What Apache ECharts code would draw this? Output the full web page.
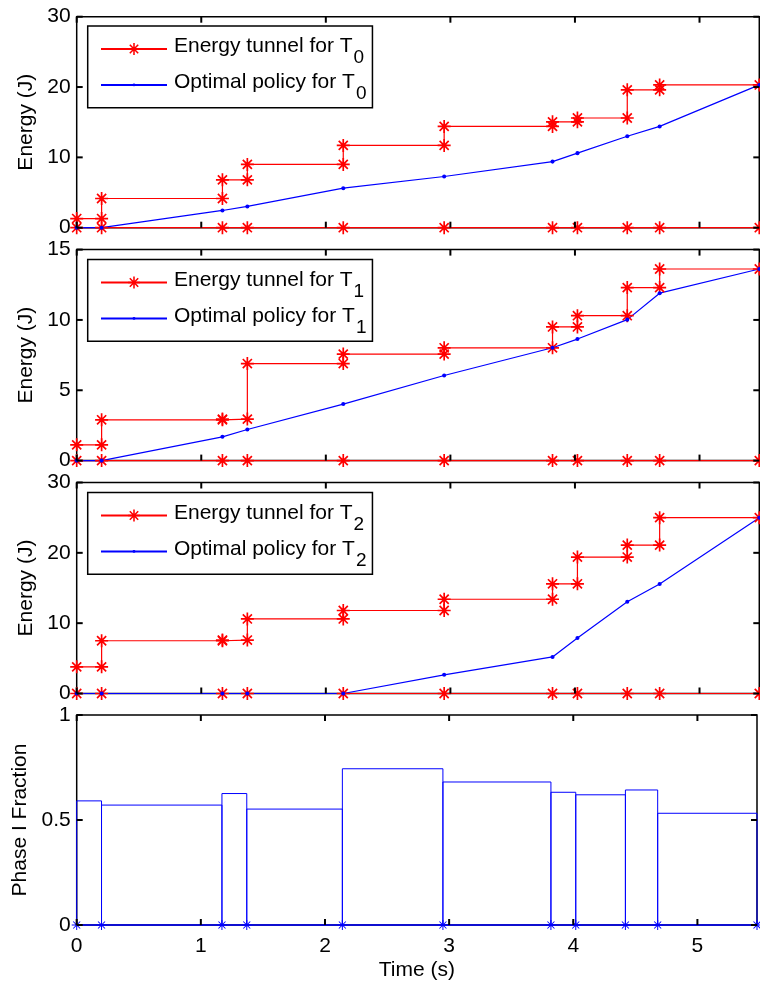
<!DOCTYPE html>
<html><head><meta charset="utf-8">
<script src="https://cdn.jsdelivr.net/npm/echarts@6/dist/echarts.min.js"></script>
<style>html,body{margin:0;padding:0;background:#fff}#c{width:760px;height:982px}</style>
</head><body><div id="c"></div>
<script>
// ---- data ----
const times = [0, 0.2, 1.17, 1.37, 2.14, 2.95, 3.82, 4.02, 4.42, 4.68, 5.48];
const tunnelT0 = [1.3, 4.15, 6.8, 9.0, 11.7, 14.4, 15.05, 15.6, 19.6, 20.3];
const tunnelT1 = [1.12, 2.9, 2.95, 6.9, 7.57, 8.02, 9.5, 10.3, 12.3, 13.62];
const tunnelT2 = [3.79, 7.5, 7.6, 10.6, 11.8, 13.4, 15.6, 19.4, 21.1, 25.0];
const policyT0 = [0, 0, 2.45, 3.02, 5.62, 7.28, 9.4, 10.6, 13.0, 14.4, 20.3];
const policyT1 = [0, 0, 1.69, 2.21, 4.02, 6.05, 8.02, 8.64, 10.02, 11.9, 13.62];
const policyT2 = [0, 0, 0, 0, 0, 2.66, 5.2, 7.9, 13.05, 15.57, 25.0];
const phaseFraction = [0.591, 0.571, 0.626, 0.552, 0.744, 0.681, 0.632, 0.62, 0.643, 0.532];
const subscripts = ['0', '1', '2'];
const xTicks = [0, 1, 2, 3, 4, 5];
const energyTicksT0 = [0, 10, 20, 30];
const energyTicksT1 = [0, 5, 10, 15];
const energyTicksT2 = [0, 10, 20, 30];
const fractionTicks = [0, 0.5, 1];
const xMax = 5.48;

// ---- styling ----
const FONT = '"Liberation Sans", Arial, Helvetica, sans-serif';
const FS = 21;
const RED = '#ff0000', BLUE = '#0000ff';
const TICK_LEN = 6;
function starPath(w) {
  const a = 10 - w / 2, b = 10 + w / 2, d = w / (2 * Math.SQRT2);
  const f = v => v.toFixed(3);
  return 'path://' +
    `M${f(a)} 0 L${f(b)} 0 L${f(b)} 20 L${f(a)} 20 Z ` +
    `M0 ${f(a)} L20 ${f(a)} L20 ${f(b)} L0 ${f(b)} Z ` +
    `M${f(3 - d)} ${f(3 + d)} L${f(3 + d)} ${f(3 - d)} L${f(17 + d)} ${f(17 - d)} L${f(17 - d)} ${f(17 + d)} Z ` +
    `M${f(17 - d)} ${f(3 - d)} L${f(17 + d)} ${f(3 + d)} L${f(3 + d)} ${f(17 + d)} L${f(3 - d)} ${f(17 - d)} Z`;
}
const RED_STAR = starPath(2.6);
const BLUE_STAR = starPath(2.0);
const DOT = 'path://M0 0 M20 20 M12.4 10 A2.4 2.4 0 1 1 7.6 10 A2.4 2.4 0 1 1 12.4 10 Z';

const gridLeft = 76.7, gridWidth = 682.6, gridHeight = 211;
const gridTops = [16.7, 249.6, 482.5, 715];
const legendTops = [26, 259.5, 492.5];

const tunnels = [tunnelT0, tunnelT1, tunnelT2];
const policies = [policyT0, policyT1, policyT2];
const yTicks = [energyTicksT0, energyTicksT1, energyTicksT2, fractionTicks];

function stairs(u) {
  const pts = [[times[0], u[0]]];
  for (let i = 1; i < times.length; i++) {
    pts.push([times[i], u[i - 1]]);
    if (i < u.length) pts.push([times[i], u[i]]);
  }
  return pts;
}
function zeroLine() { return times.map(t => [t, 0]); }
function policyPts(p) { return times.map((t, i) => [t, p[i]]); }
function boxes(f) {
  const pts = [];
  for (let i = 0; i < f.length; i++) {
    pts.push([times[i], 0], [times[i], f[i]], [times[i + 1], f[i]], [times[i + 1], 0]);
  }
  return pts;
}

const labelStyle = { color: '#000', fontFamily: FONT, fontSize: FS };
const tickLine = (x1, y1, x2, y2) => ({
  type: 'line', shape: { x1, y1, x2, y2 }, style: { stroke: '#000', lineWidth: 2 }
});

const grid = gridTops.map(t => ({
  left: gridLeft, top: t, width: gridWidth, height: gridHeight,
  show: true, borderColor: '#000', borderWidth: 1.5, backgroundColor: 'transparent'
}));

const xAxis = [], yAxis = [];
for (let g = 0; g < 4; g++) {
  const isLast = g === 3;
  const yt = yTicks[g];
  xAxis.push({
    type: 'value', gridIndex: g, min: 0, max: xMax, interval: xTicks[1] - xTicks[0],
    axisLine: { show: false, onZero: false }, splitLine: { show: false }, axisTick: { show: false },
    axisLabel: { show: isLast, margin: 11, ...labelStyle, formatter: v => Number.isInteger(v) ? String(v) : '' },
    name: isLast ? 'Time (s)' : '', nameLocation: 'middle', nameGap: 35,
    nameTextStyle: labelStyle
  });
  yAxis.push({
    type: 'value', gridIndex: g, min: yt[0], max: yt[yt.length - 1], interval: yt[1] - yt[0],
    axisLine: { show: false, onZero: false }, splitLine: { show: false }, axisTick: { show: false },
    axisLabel: { show: true, margin: 6, ...labelStyle },
    name: isLast ? 'Phase I Fraction' : 'Energy (J)', nameLocation: 'middle',
    nameRotate: 90, nameGap: isLast ? 46 : 40, nameTextStyle: labelStyle
  });
}

const series = [];
for (let g = 0; g < 3; g++) {
  const tName = 'Energy tunnel for T_' + subscripts[g];
  const pName = 'Optimal policy for T_' + subscripts[g];
  const red = {
    type: 'line', name: tName, xAxisIndex: g, yAxisIndex: g,
    symbol: RED_STAR, symbolSize: 13, showAllSymbol: true, clip: false, silent: true,
    lineStyle: { color: RED, width: 1.2 }, itemStyle: { color: RED, borderWidth: 0 },
    emphasis: { disabled: true }, animation: false, z: 3
  };
  series.push({ ...red, data: stairs(tunnels[g]) });
  series.push({ ...red, data: zeroLine() });
  series.push({
    type: 'line', name: pName, xAxisIndex: g, yAxisIndex: g,
    symbol: DOT, symbolSize: 17, showAllSymbol: true, clip: false, silent: true,
    lineStyle: { color: BLUE, width: 1.2 }, itemStyle: { color: BLUE, borderWidth: 0 },
    emphasis: { disabled: true }, data: policyPts(policies[g]), animation: false, z: 3
  });
}
series.push({
  type: 'line', name: 'Phase I Fraction', xAxisIndex: 3, yAxisIndex: 3,
  symbol: 'none', clip: false, silent: true,
  lineStyle: { color: BLUE, width: 1 }, itemStyle: { color: BLUE },
  emphasis: { disabled: true }, data: boxes(phaseFraction), animation: false, z: 3
});
series.push({
  type: 'line', name: 'Phase boundaries', xAxisIndex: 3, yAxisIndex: 3,
  symbol: BLUE_STAR, symbolSize: 10, showAllSymbol: true, clip: false, silent: true,
  lineStyle: { color: BLUE, width: 1.6 }, itemStyle: { color: BLUE, borderWidth: 0 },
  emphasis: { disabled: true }, data: zeroLine(), animation: false, z: 3
});

// inward tick marks on all four sides of every panel (MATLAB box style)
for (let g = 0; g < 4; g++) {
  series.push({
    type: 'custom', name: 'x ticks ' + g, xAxisIndex: g, yAxisIndex: g, silent: true, clip: false,
    z: 4, animation: false, data: xTicks.map(v => [v, 0]),
    renderItem: (params, api) => {
      const x = api.coord([api.value(0), 0])[0];
      const cs = params.coordSys;
      return { type: 'group', children: [
        tickLine(x, cs.y + cs.height, x, cs.y + cs.height - TICK_LEN),
        tickLine(x, cs.y, x, cs.y + TICK_LEN)
      ] };
    }
  });
  series.push({
    type: 'custom', name: 'y ticks ' + g, xAxisIndex: g, yAxisIndex: g, silent: true, clip: false,
    z: 4, animation: false, data: yTicks[g].map(v => [0, v]),
    renderItem: (params, api) => {
      const y = api.coord([0, api.value(1)])[1];
      const cs = params.coordSys;
      return { type: 'group', children: [
        tickLine(cs.x, y, cs.x + TICK_LEN, y),
        tickLine(cs.x + cs.width, y, cs.x + cs.width - TICK_LEN, y)
      ] };
    }
  });
}

const legend = [0, 1, 2].map(g => ({
  show: true, orient: 'vertical', left: 87.7, top: legendTops[g], z: 5,
  data: ['Energy tunnel for T_' + subscripts[g], 'Optimal policy for T_' + subscripts[g]],
  formatter: n => { const p = n.split('_'); return '{a|' + p[0] + '}{s|' + p[1] + '}'; },
  itemWidth: 66, itemHeight: 15, itemGap: 4.5,
  padding: [10, 6, 4.5, 12.3],
  backgroundColor: '#fff', borderColor: '#000', borderWidth: 1.5, borderRadius: 0,
  selectedMode: false,
  lineStyle: { width: 2 },
  textStyle: {
    color: '#000', fontFamily: FONT, fontSize: FS,
    rich: {
      a: { fontSize: FS, fontFamily: FONT, color: '#000', lineHeight: 26, verticalAlign: 'top', padding: [0, 0, 7, 2] },
      s: { fontSize: 19, fontFamily: FONT, color: '#000', lineHeight: 19, verticalAlign: 'top', padding: [12.4, 0, 0, 1] }
    }
  }
}));

const chart = echarts.init(document.getElementById('c'), null, { renderer: 'canvas' });
chart.setOption({ animation: false, backgroundColor: '#fff', grid, xAxis, yAxis, series, legend });
</script></body></html>
